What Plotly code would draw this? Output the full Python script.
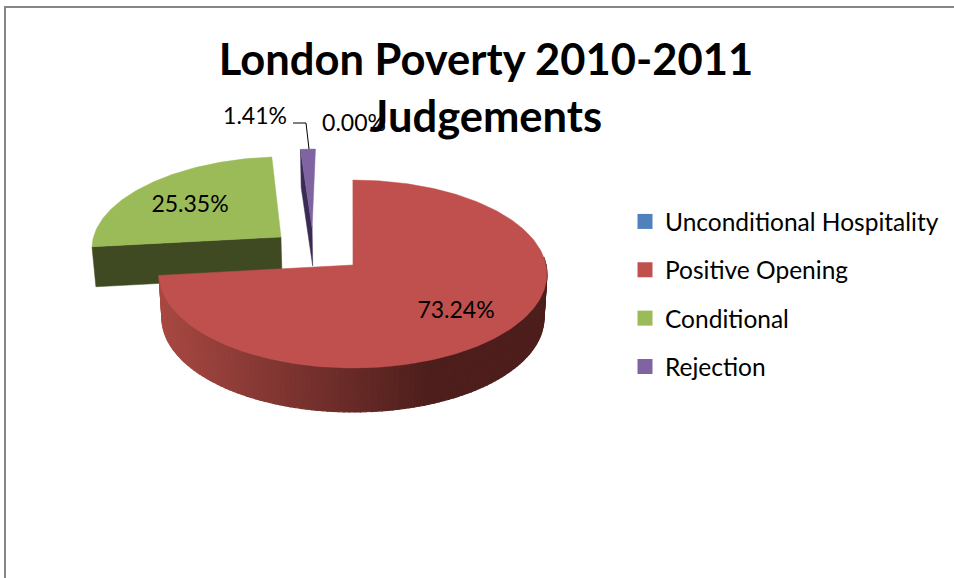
import math
import plotly.graph_objects as go

# ---- data ----
categories = ["Unconditional Hospitality", "Positive Opening", "Conditional", "Rejection"]
percent_values = [0.00, 73.24, 25.35, 1.41]
title_text = "London Poverty 2010-2011<br>Judgements"

# ---- styles ----
top_colors = ["#4f81bd", "#c0504d", "#9bbb59", "#8064a2"]
cut_colors = ["#27405e", "#4d1e1c", "#3f4a23", "#3a2b54"]
explode_u = [0.0, 0.005, -0.379, -0.215]
explode_v = [0.0, 0.0, 0.31, 0.414]
depths = [44, 44, 40, 38]
label_pos = [(354, 125), (456, 312), (190, 206), (255, 118)]
FONT = "Lato"

# projection of the tilted disc to the pixel-sized axes
CX, CY, RX, RY, K = 352, 265, 193, 93.1, 0.0958
BOTTOM_SCALE = 0.985


def project(u, v, depth=0.0):
    s = 1 + K * v
    x = CX + RX * u / s
    y = CY - RY * v / s
    if depth:
        x = CX + (x - CX) * BOTTOM_SCALE
        y = y + depth
    return x, y


def rim(a0, a1, du, dv, depth=0.0, step=1.0):
    n = max(2, int(abs(a1 - a0) / step) + 1)
    return [
        project(du + math.sin(math.radians(a0 + (a1 - a0) * i / (n - 1))),
                dv + math.cos(math.radians(a0 + (a1 - a0) * i / (n - 1))), depth)
        for i in range(n)
    ]


def poly(points, color, lw=0.5):
    xs = [p[0] for p in points] + [points[0][0]]
    ys = [p[1] for p in points] + [points[0][1]]
    return go.Scatter(x=xs, y=ys, mode="lines", fill="toself", fillcolor=color,
                      line=dict(color=color, width=lw), showlegend=False, hoverinfo="skip")


def wall_color(x):
    dark, light = (0x4d, 0x1e, 0x1c), (0xa8, 0x48, 0x42)
    t = max(0.0, min(1.0, (430 - x) / 270))
    return "rgb(%d,%d,%d)" % tuple(round(dark[i] + (light[i] - dark[i]) * t) for i in range(3))


# slice angles follow the values, clockwise from twelve o'clock
angles = []
acc = 0.0
for val in percent_values:
    angles.append((acc * 3.6, (acc + val) * 3.6))
    acc += val

traces = []
# draw back-to-front: Rejection, Conditional, Positive Opening
for idx in [3, 2, 1]:
    a0, a1 = angles[idx]
    du, dv, d = explode_u[idx], explode_v[idx], depths[idx]
    apex = project(du, dv)
    apex_b = project(du, dv, d)
    if idx in (2, 3):
        # visible cut face of an exploded slice
        ou = du + math.sin(math.radians(a0))
        ov = dv + math.cos(math.radians(a0))
        traces.append(poly([project(ou, ov), apex, apex_b, project(ou, ov, d)], cut_colors[idx]))
    if idx == 1:
        # shaded outer wall, split into narrow strips for the gradient
        seg = 1.5
        a = 85.0
        while a < a1:
            b = min(a + seg, a1)
            top = rim(a, b, du, dv, 0, 1)
            bot = rim(b, a, du, dv, d, 1)
            xm = (top[0][0] + top[-1][0]) / 2
            traces.append(poly(top + bot, wall_color(xm), 1.2))
            a = b
    pts = rim(a0, a1, du, dv) + [apex]
    traces.append(poly(pts, top_colors[idx]))

# data labels
traces.append(go.Scatter(
    x=[p[0] for p in label_pos], y=[p[1] for p in label_pos], mode="text",
    text=["%.2f%%" % v for v in percent_values],
    textposition="middle center",
    textfont=dict(family=FONT, size=23, color="#000000"),
    showlegend=False, hoverinfo="skip"))

# legend entries
for name, color, val in zip(categories, top_colors, percent_values):
    traces.append(go.Scatter(
        x=[None], y=[None], mode="markers", name=name, legendgroup=name,
        marker=dict(symbol="square", size=15, color=color), customdata=[val]))

fig = go.Figure(traces)
fig.update_layout(
    width=954, height=578,
    margin=dict(l=0, r=0, t=0, b=0),
    paper_bgcolor="#ffffff", plot_bgcolor="#ffffff",
    title=dict(text=title_text, font=dict(family=FONT, size=43.5, color="#000000", weight="bold"),
               x=486 / 954, xanchor="center", y=1 - 75 / 578, yanchor="top"),
    xaxis=dict(range=[0, 954], visible=False, fixedrange=True),
    yaxis=dict(range=[578, 0], visible=False, fixedrange=True),
    legend=dict(x=625 / 954, xanchor="left", y=1 - 199 / 578, yanchor="top",
                font=dict(family=FONT, size=24.5, color="#000000"),
                tracegroupgap=13.5, bgcolor="rgba(0,0,0,0)", itemclick=False, itemdoubleclick=False),
    shapes=[
        dict(type="path", xref="x", yref="y", path="M 5 578 L 5 7 L 954 7",
             line=dict(color="#868686", width=2)),
        dict(type="path", xref="x", yref="y", path="M 293 123 L 306 123 L 309 149",
             line=dict(color="#000000", width=1)),
    ],
)
fig.write_html("out.html", post_script="document.body.style.margin='0';",
               config={"displayModeBar": False})
